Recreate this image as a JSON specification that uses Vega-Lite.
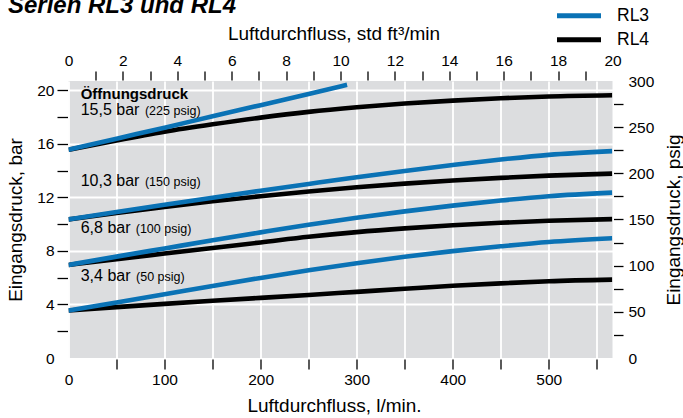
{
  "$schema": "https://vega.github.io/schema/vega-lite/v6.json",
  "width": 544,
  "height": 277,
  "autosize": {"type": "none"},
  "padding": {"left": 68.5, "top": 81, "right": 70.5, "bottom": 60},
  "background": "white",
  "config": {
    "font": "Liberation Sans",
    "view": {"fill": "#dcdddf", "stroke": null},
    "axis": {
      "domain": false,
      "labelFont": "Liberation Sans",
      "labelFontSize": 15.5,
      "labelColor": "#000000",
      "labelOverlap": false,
      "labelFlush": false,
      "labelBound": false,
      "titleFont": "Liberation Sans",
      "titleFontSize": 19,
      "titleFontWeight": "normal",
      "titleColor": "#000000",
      "tickColor": "#000000",
      "tickWidth": 1.3,
      "gridColor": "#ffffff",
      "gridWidth": 1.8
    }
  },
  "title": {
    "text": "Serien RL3 und RL4",
    "anchor": "start",
    "frame": "group",
    "font": "Liberation Sans",
    "fontSize": 24,
    "fontWeight": "bold",
    "fontStyle": "italic",
    "color": "#000000",
    "baseline": "alphabetic",
    "dx": -60.5,
    "offset": -35
  },
  "datasets": {
    "curves": [
      {"series": "RL4", "curve": "RL4-15.5", "flow": 0, "pressure": 15.55},
      {"series": "RL4", "curve": "RL4-15.5", "flow": 50, "pressure": 16.25},
      {"series": "RL4", "curve": "RL4-15.5", "flow": 100, "pressure": 16.9},
      {"series": "RL4", "curve": "RL4-15.5", "flow": 150, "pressure": 17.45},
      {"series": "RL4", "curve": "RL4-15.5", "flow": 200, "pressure": 17.95},
      {"series": "RL4", "curve": "RL4-15.5", "flow": 250, "pressure": 18.38},
      {"series": "RL4", "curve": "RL4-15.5", "flow": 300, "pressure": 18.72},
      {"series": "RL4", "curve": "RL4-15.5", "flow": 350, "pressure": 19.0},
      {"series": "RL4", "curve": "RL4-15.5", "flow": 400, "pressure": 19.22},
      {"series": "RL4", "curve": "RL4-15.5", "flow": 450, "pressure": 19.4},
      {"series": "RL4", "curve": "RL4-15.5", "flow": 500, "pressure": 19.53},
      {"series": "RL4", "curve": "RL4-15.5", "flow": 566, "pressure": 19.62},
      {"series": "RL4", "curve": "RL4-10.3", "flow": 0, "pressure": 10.35},
      {"series": "RL4", "curve": "RL4-10.3", "flow": 50, "pressure": 10.83},
      {"series": "RL4", "curve": "RL4-10.3", "flow": 100, "pressure": 11.28},
      {"series": "RL4", "curve": "RL4-10.3", "flow": 150, "pressure": 11.7},
      {"series": "RL4", "curve": "RL4-10.3", "flow": 200, "pressure": 12.08},
      {"series": "RL4", "curve": "RL4-10.3", "flow": 250, "pressure": 12.43},
      {"series": "RL4", "curve": "RL4-10.3", "flow": 300, "pressure": 12.75},
      {"series": "RL4", "curve": "RL4-10.3", "flow": 350, "pressure": 13.02},
      {"series": "RL4", "curve": "RL4-10.3", "flow": 400, "pressure": 13.25},
      {"series": "RL4", "curve": "RL4-10.3", "flow": 450, "pressure": 13.45},
      {"series": "RL4", "curve": "RL4-10.3", "flow": 500, "pressure": 13.62},
      {"series": "RL4", "curve": "RL4-10.3", "flow": 566, "pressure": 13.77},
      {"series": "RL4", "curve": "RL4-6.8", "flow": 0, "pressure": 6.95},
      {"series": "RL4", "curve": "RL4-6.8", "flow": 50, "pressure": 7.38},
      {"series": "RL4", "curve": "RL4-6.8", "flow": 100, "pressure": 7.8},
      {"series": "RL4", "curve": "RL4-6.8", "flow": 150, "pressure": 8.22},
      {"series": "RL4", "curve": "RL4-6.8", "flow": 200, "pressure": 8.63},
      {"series": "RL4", "curve": "RL4-6.8", "flow": 250, "pressure": 9.05},
      {"series": "RL4", "curve": "RL4-6.8", "flow": 300, "pressure": 9.4},
      {"series": "RL4", "curve": "RL4-6.8", "flow": 350, "pressure": 9.68},
      {"series": "RL4", "curve": "RL4-6.8", "flow": 400, "pressure": 9.91},
      {"series": "RL4", "curve": "RL4-6.8", "flow": 450, "pressure": 10.1},
      {"series": "RL4", "curve": "RL4-6.8", "flow": 500, "pressure": 10.25},
      {"series": "RL4", "curve": "RL4-6.8", "flow": 566, "pressure": 10.37},
      {"series": "RL4", "curve": "RL4-3.4", "flow": 0, "pressure": 3.55},
      {"series": "RL4", "curve": "RL4-3.4", "flow": 50, "pressure": 3.8},
      {"series": "RL4", "curve": "RL4-3.4", "flow": 100, "pressure": 4.04},
      {"series": "RL4", "curve": "RL4-3.4", "flow": 150, "pressure": 4.27},
      {"series": "RL4", "curve": "RL4-3.4", "flow": 200, "pressure": 4.49},
      {"series": "RL4", "curve": "RL4-3.4", "flow": 250, "pressure": 4.71},
      {"series": "RL4", "curve": "RL4-3.4", "flow": 300, "pressure": 4.94},
      {"series": "RL4", "curve": "RL4-3.4", "flow": 350, "pressure": 5.17},
      {"series": "RL4", "curve": "RL4-3.4", "flow": 400, "pressure": 5.39},
      {"series": "RL4", "curve": "RL4-3.4", "flow": 450, "pressure": 5.57},
      {"series": "RL4", "curve": "RL4-3.4", "flow": 500, "pressure": 5.73},
      {"series": "RL4", "curve": "RL4-3.4", "flow": 566, "pressure": 5.85},
      {"series": "RL3", "curve": "RL3-15.5", "flow": 0, "pressure": 15.55},
      {"series": "RL3", "curve": "RL3-15.5", "flow": 50, "pressure": 16.38},
      {"series": "RL3", "curve": "RL3-15.5", "flow": 100, "pressure": 17.2},
      {"series": "RL3", "curve": "RL3-15.5", "flow": 150, "pressure": 18.05},
      {"series": "RL3", "curve": "RL3-15.5", "flow": 200, "pressure": 18.88},
      {"series": "RL3", "curve": "RL3-15.5", "flow": 250, "pressure": 19.72},
      {"series": "RL3", "curve": "RL3-15.5", "flow": 290, "pressure": 20.4},
      {"series": "RL3", "curve": "RL3-10.3", "flow": 0, "pressure": 10.35},
      {"series": "RL3", "curve": "RL3-10.3", "flow": 50, "pressure": 10.9},
      {"series": "RL3", "curve": "RL3-10.3", "flow": 100, "pressure": 11.44},
      {"series": "RL3", "curve": "RL3-10.3", "flow": 150, "pressure": 11.97},
      {"series": "RL3", "curve": "RL3-10.3", "flow": 200, "pressure": 12.49},
      {"series": "RL3", "curve": "RL3-10.3", "flow": 250, "pressure": 13.0},
      {"series": "RL3", "curve": "RL3-10.3", "flow": 300, "pressure": 13.5},
      {"series": "RL3", "curve": "RL3-10.3", "flow": 350, "pressure": 13.97},
      {"series": "RL3", "curve": "RL3-10.3", "flow": 400, "pressure": 14.41},
      {"series": "RL3", "curve": "RL3-10.3", "flow": 450, "pressure": 14.82},
      {"series": "RL3", "curve": "RL3-10.3", "flow": 500, "pressure": 15.17},
      {"series": "RL3", "curve": "RL3-10.3", "flow": 566, "pressure": 15.45},
      {"series": "RL3", "curve": "RL3-6.8", "flow": 0, "pressure": 6.95},
      {"series": "RL3", "curve": "RL3-6.8", "flow": 50, "pressure": 7.57},
      {"series": "RL3", "curve": "RL3-6.8", "flow": 100, "pressure": 8.18},
      {"series": "RL3", "curve": "RL3-6.8", "flow": 150, "pressure": 8.79},
      {"series": "RL3", "curve": "RL3-6.8", "flow": 200, "pressure": 9.38},
      {"series": "RL3", "curve": "RL3-6.8", "flow": 250, "pressure": 9.95},
      {"series": "RL3", "curve": "RL3-6.8", "flow": 300, "pressure": 10.47},
      {"series": "RL3", "curve": "RL3-6.8", "flow": 350, "pressure": 10.95},
      {"series": "RL3", "curve": "RL3-6.8", "flow": 400, "pressure": 11.38},
      {"series": "RL3", "curve": "RL3-6.8", "flow": 450, "pressure": 11.76},
      {"series": "RL3", "curve": "RL3-6.8", "flow": 500, "pressure": 12.08},
      {"series": "RL3", "curve": "RL3-6.8", "flow": 566, "pressure": 12.35},
      {"series": "RL3", "curve": "RL3-3.4", "flow": 0, "pressure": 3.55},
      {"series": "RL3", "curve": "RL3-3.4", "flow": 50, "pressure": 4.15},
      {"series": "RL3", "curve": "RL3-3.4", "flow": 100, "pressure": 4.76},
      {"series": "RL3", "curve": "RL3-3.4", "flow": 150, "pressure": 5.38},
      {"series": "RL3", "curve": "RL3-3.4", "flow": 200, "pressure": 5.98},
      {"series": "RL3", "curve": "RL3-3.4", "flow": 250, "pressure": 6.55},
      {"series": "RL3", "curve": "RL3-3.4", "flow": 300, "pressure": 7.08},
      {"series": "RL3", "curve": "RL3-3.4", "flow": 350, "pressure": 7.56},
      {"series": "RL3", "curve": "RL3-3.4", "flow": 400, "pressure": 7.98},
      {"series": "RL3", "curve": "RL3-3.4", "flow": 450, "pressure": 8.34},
      {"series": "RL3", "curve": "RL3-3.4", "flow": 500, "pressure": 8.66},
      {"series": "RL3", "curve": "RL3-3.4", "flow": 566, "pressure": 8.94}
    ],
    "notes": [
      {"kind": "head", "label": "Öffnungsdruck", "flow": 12.7, "pressure": 19.32},
      {"kind": "main", "label": "15,5 bar", "flow": 12.7, "pressure": 18.14},
      {"kind": "sub", "label": "(225 psig)", "flow": 79.6, "pressure": 18.14},
      {"kind": "main", "label": "10,3 bar", "flow": 12.7, "pressure": 12.82},
      {"kind": "sub", "label": "(150 psig)", "flow": 79.6, "pressure": 12.82},
      {"kind": "main", "label": "6,8 bar", "flow": 12.7, "pressure": 9.37},
      {"kind": "sub", "label": "(100 psig)", "flow": 70, "pressure": 9.37},
      {"kind": "main", "label": "3,4 bar", "flow": 12.7, "pressure": 5.75},
      {"kind": "sub", "label": "(50 psig)", "flow": 70.3, "pressure": 5.75}
    ]
  },
  "resolve": {"axis": {"x": "independent", "y": "independent"}},
  "layer": [
    {
      "data": {"name": "curves"},
      "transform": [{"filter": "datum.series === 'RL4'"}],
      "mark": {"type": "line", "strokeWidth": 4.6, "interpolate": "monotone", "clip": true},
      "encoding": {
        "x": {
          "field": "flow", "type": "quantitative",
          "scale": {"domain": [0, 566.3364], "nice": false, "zero": false},
          "axis": {
            "orient": "bottom",
            "values": [0, 50, 100, 150, 200, 250, 300, 350, 400, 450, 500, 550],
            "labelExpr": "datum.value % 100 === 0 ? datum.label : ''",
            "tickSize": 10, "offset": 1, "labelPadding": 3,
            "tickOpacity": {"condition": {"test": "datum.value === 0", "value": 0}, "value": 1},
            "grid": true,
            "title": "Luftdurchfluss, l/min.",
            "titleX": 265.5, "titleY": 52, "titleBaseline": "alphabetic", "titleAlign": "center"
          }
        },
        "y": {
          "field": "pressure", "type": "quantitative",
          "scale": {"domain": [0, 20.684271], "nice": false, "zero": false},
          "axis": {
            "orient": "left",
            "values": [0, 2, 4, 6, 8, 10, 12, 14, 16, 18, 20],
            "labelExpr": "datum.value % 4 === 0 ? datum.label : ''",
            "tickSize": 10.5, "offset": 1, "labelPadding": 3,
            "tickOpacity": {"condition": {"test": "datum.value === 0", "value": 0}, "value": 1},
            "grid": true,
            "gridOpacity": {"condition": {"test": "datum.value % 4 === 0 && datum.value > 0", "value": 1}, "value": 0},
            "title": "Eingangsdruck, bar",
            "titleAngle": 270, "titleX": -46.5, "titleY": 138.5, "titleBaseline": "alphabetic", "titleAlign": "center"
          }
        },
        "color": {
          "field": "series", "type": "nominal",
          "scale": {"domain": ["RL3", "RL4"], "range": ["#0a72b5", "#000000"]},
          "legend": {
            "orient": "none", "legendX": 497, "legendY": -78.8, "title": null,
            "symbolType": "M-2,0L2,0", "symbolSize": 484, "symbolStrokeWidth": 5,
            "labelFont": "Liberation Sans", "labelFontSize": 17.5, "labelColor": "#000000",
            "labelOffset": 24.5, "rowPadding": 0, "padding": 0
          }
        },
        "detail": {"field": "curve"}
      }
    },
    {
      "data": {"name": "curves"},
      "transform": [{"filter": "datum.series === 'RL3'"}],
      "mark": {"type": "line", "strokeWidth": 4.6, "interpolate": "monotone", "clip": true},
      "encoding": {
        "x": {"field": "flow", "type": "quantitative", "axis": null},
        "y": {"field": "pressure", "type": "quantitative", "axis": null},
        "color": {
          "field": "series", "type": "nominal",
          "legend": {
            "orient": "none", "legendX": 497, "legendY": -78.8, "title": null,
            "symbolType": "M-2,0L2,0", "symbolSize": 484, "symbolStrokeWidth": 5,
            "labelFont": "Liberation Sans", "labelFontSize": 17.5, "labelColor": "#000000",
            "labelOffset": 24.5, "rowPadding": 0, "padding": 0
          }
        },
        "detail": {"field": "curve"}
      }
    },
    {
      "data": {"name": "curves"},
      "mark": {"type": "point", "opacity": 0},
      "encoding": {
        "x": {
          "field": "flow", "type": "quantitative",
          "axis": {
            "orient": "top",
            "values": [0, 28.3168, 56.6336, 84.9505, 113.2673, 141.5841, 169.9009, 198.2177, 226.5346, 254.8514, 283.1682, 311.485, 339.8018, 368.1186, 396.4355, 424.7523, 453.0691, 481.3859, 509.7027, 538.0196, 566.3364],
            "labelExpr": "round(datum.value / 28.3168) % 2 === 0 ? format(round(datum.value / 28.3168), 'd') : ''",
            "tickSize": 9, "offset": 1, "labelPadding": 3,
            "tickOpacity": {"condition": {"test": "datum.value < 1 || datum.value > 566", "value": 0}, "value": 1},
            "grid": false,
            "title": "Luftdurchfluss, std ft³/min",
            "titleX": 265, "titleY": -40.3, "titleBaseline": "alphabetic", "titleAlign": "center"
          }
        },
        "y": {
          "field": "pressure", "type": "quantitative",
          "axis": {
            "orient": "right",
            "values": [0, 1.723689, 3.447379, 5.171068, 6.894757, 8.618446, 10.342136, 12.065825, 13.789514, 15.513204, 17.236893, 18.960582, 20.684271],
            "labelExpr": "round(datum.value * 14.5038) % 50 === 0 ? format(round(datum.value * 14.5038), 'd') : ''",
            "tickSize": 9.5, "offset": 1, "labelPadding": 5,
            "tickOpacity": {"condition": {"test": "datum.value < 0.1 || datum.value > 20.6", "value": 0}, "value": 1},
            "grid": false,
            "title": "Eingangsdruck, psig",
            "titleAngle": 270, "titleX": 65.5, "titleY": 138.5, "titleBaseline": "alphabetic", "titleAlign": "center"
          }
        }
      }
    },
    {
      "data": {"name": "notes"},
      "transform": [{"filter": "datum.kind === 'head'"}],
      "mark": {"type": "text", "align": "left", "baseline": "alphabetic", "font": "Liberation Sans", "fontSize": 15, "fontWeight": "bold", "color": "#000000"},
      "encoding": {
        "x": {"field": "flow", "type": "quantitative", "axis": null},
        "y": {"field": "pressure", "type": "quantitative", "axis": null},
        "text": {"field": "label"}
      }
    },
    {
      "data": {"name": "notes"},
      "transform": [{"filter": "datum.kind === 'main'"}],
      "mark": {"type": "text", "align": "left", "baseline": "alphabetic", "font": "Liberation Sans", "fontSize": 16, "color": "#000000"},
      "encoding": {
        "x": {"field": "flow", "type": "quantitative", "axis": null},
        "y": {"field": "pressure", "type": "quantitative", "axis": null},
        "text": {"field": "label"}
      }
    },
    {
      "data": {"name": "notes"},
      "transform": [{"filter": "datum.kind === 'sub'"}],
      "mark": {"type": "text", "align": "left", "baseline": "alphabetic", "font": "Liberation Sans", "fontSize": 12.5, "color": "#000000"},
      "encoding": {
        "x": {"field": "flow", "type": "quantitative", "axis": null},
        "y": {"field": "pressure", "type": "quantitative", "axis": null},
        "text": {"field": "label"}
      }
    }
  ]
}
